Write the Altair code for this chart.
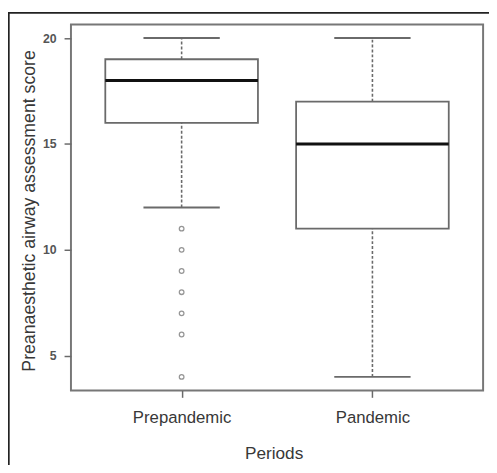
import altair as alt
import pandas as pd

# ---- data ----
categories = ["Prepandemic", "Pandemic"]
positions = [1, 2]
whisker_low = [12, 4]
q1 = [16, 11]
median = [18, 15]
q3 = [19, 17]
whisker_high = [20, 20]

outlier_group = ["Prepandemic"] * 7
outlier_values = [11, 10, 9, 8, 7, 6, 4]

y_ticks = [5, 10, 15, 20]

boxes = pd.DataFrame({
    "cat": categories, "pos": positions, "lo": whisker_low, "q1": q1,
    "med": median, "q3": q3, "hi": whisker_high,
})
pos_map = dict(zip(categories, positions))
outl = pd.DataFrame({"cat": outlier_group, "value": outlier_values})
outl["pos"] = outl["cat"].map(pos_map)

W, H = 419, 372
FONT = "Liberation Sans"
TXT = "#383838"
LINE = "#6a6a6a"

xscale = alt.Scale(domain=[0.42, 2.58], nice=False, zero=False)
yscale = alt.Scale(domain=[3.36, 20.64], nice=False, zero=False)

label_expr = " : ".join(
    [f"datum.value == {p} ? '{c}'" for p, c in zip(positions[:-1], categories[:-1])]
    + [f"'{categories[-1]}'"]
)

xaxis = alt.Axis(
    values=positions, labelExpr=label_expr, title="Periods", domain=False, grid=False,
    tickSize=7, tickColor=LINE, tickWidth=1.5, labelPadding=13, labelFontSize=17,
    labelColor=TXT, labelFont=FONT, titleFont=FONT, titleFontSize=17.5,
    titleFontWeight="normal", titleColor=TXT, titleX=206, titleY=69,
    titleBaseline="alphabetic", titleAlign="center",
)
yaxis = alt.Axis(
    values=y_ticks, title="Preanaesthetic airway assessment score", domain=False, grid=False,
    tickSize=7, tickColor=LINE, tickWidth=1.5, labelPadding=8, labelFontSize=12.5,
    labelFontWeight="bold", labelColor="#555555", labelFont=FONT, labelAngle=0,
    titleFont=FONT, titleFontSize=18, titleFontWeight="normal", titleColor=TXT,
    titleAngle=270, titleX=-37, titleY=189, titleBaseline="alphabetic", titleAlign="center",
)

base = alt.Chart(boxes).transform_calculate(
    xl="datum.pos - 0.4", xr="datum.pos + 0.4",
    sl="datum.pos - 0.2", sr="datum.pos + 0.2",
)

whisk_upper = base.mark_rule(color=LINE, strokeWidth=1.6, strokeDash=[3, 2]).encode(
    x=alt.X("pos:Q", scale=xscale, axis=xaxis),
    y=alt.Y("q3:Q", scale=yscale, axis=yaxis),
    y2="hi:Q",
)
whisk_lower = base.mark_rule(color=LINE, strokeWidth=1.6, strokeDash=[3, 2]).encode(
    x="pos:Q", y="lo:Q", y2="q1:Q",
)
staple_hi = base.mark_rule(color=LINE, strokeWidth=2).encode(
    x="sl:Q", x2="sr:Q", y="hi:Q",
)
staple_lo = base.mark_rule(color=LINE, strokeWidth=2).encode(
    x="sl:Q", x2="sr:Q", y="lo:Q",
)
box = base.mark_rect(fill="white", stroke=LINE, strokeWidth=1.8).encode(
    x="xl:Q", x2="xr:Q", y="q1:Q", y2="q3:Q",
)
med = base.mark_rule(color="#111111", strokeWidth=3).encode(
    x="xl:Q", x2="xr:Q", y="med:Q",
)
pts = alt.Chart(outl).mark_point(shape="circle", size=22, color=LINE, strokeWidth=1.3, filled=False).encode(
    x="pos:Q", y="value:Q",
)

# thin border of the original figure (left and top edges)
border_left = alt.Chart(boxes).mark_rule(color="#222222", strokeWidth=1.5).encode(
    x=alt.value(-63.3), y=alt.value(-12.5), y2=alt.value(H + 80),
)
border_top = alt.Chart(boxes).mark_rule(color="#222222", strokeWidth=1.5).encode(
    x=alt.value(-64), x2=alt.value(W + 10), y=alt.value(-12),
)

chart = alt.layer(
    whisk_upper, whisk_lower, staple_hi, staple_lo, box, med, pts, border_left, border_top
).properties(
    width=W, height=H,
    autosize=alt.AutoSizeParams(type="none"),
    padding={"left": 64, "top": 13, "right": 6, "bottom": 72},
    background="white",
).configure_view(stroke="#777777", strokeWidth=2)

chart.save("out.html", embed_options={"renderer": "svg", "actions": False})
